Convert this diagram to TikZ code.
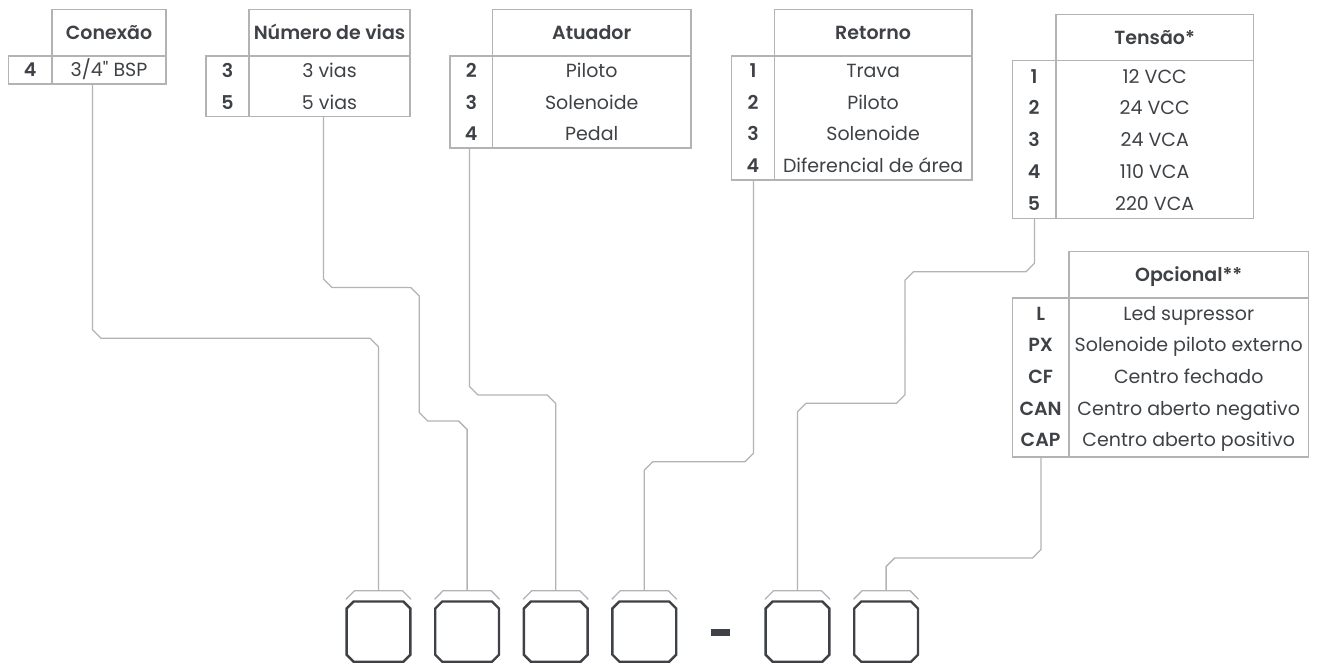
\documentclass[tikz,border=0pt]{standalone}
\usepackage{fontspec}
\IfFontExistsTF{Poppins SemiBold}{\setmainfont{Poppins}[Ligatures=TeXOff,BoldFont={Poppins SemiBold}]}{\setmainfont{Poppins}[Ligatures=TeXOff]}
\usetikzlibrary{calc}
\definecolor{ink}{HTML}{3E4145}
\definecolor{rulec}{HTML}{B3B3B3}
\definecolor{boxc}{HTML}{3E4145}
% connector with chamfered bends: #2 start, #3 level coordinate, #4 end
\newcommand\route[4][8.5]{%
  \draw[conn] let \p1=(#2), \p2=(#4), \p3=(#3), \n1={((\x2>\x1)*2-1)*#1} in
    (\p1) -- (\x1,{\y3+#1pt}) -- ({\x1+(\n1)},\y3) -- ({\x2-(\n1)},\y3) -- (\x2,{\y3-#1pt}) -- (\p2);}
% slot box: #1 name, #2 centre x
\newcommand\slotbox[2]{%
  \node[inner sep=0pt,minimum width=63.4pt,minimum height=59.8pt] (#1) at (#2,631.6) {};
  \draw[slot] ($(#1.north west)+(0,7)$) -- ($(#1.north west)+(7,0)$) -- ($(#1.north east)+(-7,0)$)
    -- ($(#1.north east)+(0,7)$) -- ($(#1.south east)+(0,-7)$) -- ($(#1.south east)+(-7,0)$)
    -- ($(#1.south west)+(7,0)$) -- ($(#1.south west)+(0,-7)$) -- cycle;
  \coordinate (#1top) at (#2,590.7);
  \draw[brk] ($(#1top)+(-32.5,8.6)$) -- ($(#1top)+(-24,0)$) -- ($(#1top)+(24,0)$) -- ($(#1top)+(32.5,8.6)$);}
\begin{document}
\begin{tikzpicture}[x=1pt,y=-1pt,
  tline/.style={draw=rulec,line width=1.3pt},
  conn/.style={draw=rulec,line width=1.3pt},
  brk/.style={draw=rulec,line width=1.3pt},
  slot/.style={draw=boxc,line width=2.4pt,line join=miter},
  txt/.style={anchor=base,yshift=-6.8pt,inner sep=0pt,text=ink,font=\fontsize{19}{22}\selectfont},
  num/.style={txt,font=\fontsize{19}{22}\selectfont\bfseries},
  hd/.style={num}]
\useasboundingbox (0,0) rectangle (1319,663);

% ---------- Conexao
\draw[tline] (52,9.5) rectangle (166,56);
\draw[tline] (8.4,56) rectangle (166,84);
\draw[tline] (52,56) -- (52,84);
\node[hd] (conH) at (109,32.5) {Conexão};
\node[num] (conN1) at (30.2,70) {4};
\node[txt] (conR1) at (109,70) {3/4" BSP};
\coordinate (conB) at (92.5,84);

% ---------- Numero de vias
\draw[tline] (249,9.5) rectangle (410,56);
\draw[tline] (206,56) rectangle (410,116.5);
\draw[tline] (249,56) -- (249,116.5);
\node[hd] (nvH) at (329.5,32.5) {Número de vias};
\foreach \a/\b [count=\i] in {3/3 vias,5/5 vias}{
  \node[num] (nvN\i) at (227.5,{70.5+31.8*(\i-1)}) {\a};
  \node[txt] (nvR\i) at (329.5,{70.5+31.8*(\i-1)}) {\b};}
\coordinate (nvB) at (323.5,116.5);

% ---------- Atuador
\draw[tline] (492.5,9.5) rectangle (691,56);
\draw[tline] (450,56) rectangle (691,148);
\draw[tline] (492.5,56) -- (492.5,148);
\node[hd] (atH) at (591.7,32.5) {Atuador};
\foreach \a/\b [count=\i] in {2/Piloto,3/Solenoide,4/Pedal}{
  \node[num] (atN\i) at (471.2,{70.5+31.8*(\i-1)}) {\a};
  \node[txt] (atR\i) at (591.7,{70.5+31.8*(\i-1)}) {\b};}
\coordinate (atB) at (469.5,148);

% ---------- Retorno
\draw[tline] (774.3,9.5) rectangle (972,56);
\draw[tline] (731.7,56) rectangle (972,180);
\draw[tline] (774.3,56) -- (774.3,180);
\node[hd] (reH) at (873.1,32.5) {Retorno};
\foreach \a/\b [count=\i] in {1/Trava,2/Piloto,3/Solenoide,4/Diferencial de área}{
  \node[num] (reN\i) at (753,{70.5+31.8*(\i-1)}) {\a};
  \node[txt] (reR\i) at (873.1,{70.5+31.8*(\i-1)}) {\b};}
\coordinate (reB) at (753.5,180);

% ---------- Tensao
\draw[tline] (1056,14.5) rectangle (1253.5,60.7);
\draw[tline] (1012.3,60.7) rectangle (1253.5,218.3);
\draw[tline] (1056,60.7) -- (1056,218.3);
\node[hd] (teH) at (1154.7,37.6) {Tensão*};
\foreach \a/\b [count=\i] in {1/12 VCC,2/24 VCC,3/24 VCA,4/110 VCA,5/220 VCA}{
  \node[num] (teN\i) at (1034.1,{76.5+31.7*(\i-1)}) {\a};
  \node[txt] (teR\i) at (1154.7,{76.5+31.7*(\i-1)}) {\b};}
\coordinate (teB) at (1034.5,218.3);

% ---------- Opcional
\draw[tline] (1069,251.7) rectangle (1308.5,298);
\draw[tline] (1012.3,298) rectangle (1308.5,457);
\draw[tline] (1069,298) -- (1069,457);
\node[hd] (opH) at (1188.7,274.8) {Opcional**};
\foreach \a/\b [count=\i] in {L/Led supressor,PX/Solenoide piloto externo,CF/Centro fechado,CAN/Centro aberto negativo,CAP/Centro aberto positivo}{
  \node[num] (opN\i) at (1040.6,{313.5+31.6*(\i-1)}) {\a};
  \node[txt] (opR\i) at (1188.7,{313.5+31.6*(\i-1)}) {\b};}
\coordinate (opB) at (1041,457);

% ---------- slots
\slotbox{s1}{378.5}
\slotbox{s2}{467.1}
\slotbox{s3}{555.7}
\slotbox{s4}{644.3}
\slotbox{s5}{797.5}
\slotbox{s6}{886.1}
\node[fill=boxc,inner sep=0pt,minimum width=19pt,minimum height=6.5pt] (dash) at (720.5,632.5) {};

% ---------- connectors
\coordinate (l1) at (0,338.3);
\coordinate (l2a) at (0,287.5);
\coordinate (l2b) at (0,421);
\coordinate (m2) at (419.3,350);
\coordinate (l3) at (0,395);
\coordinate (l4) at (0,461.7);
\coordinate (l5a) at (0,271.7);
\coordinate (l5b) at (0,403.3);
\coordinate (m5) at (905,340);
\coordinate (l6) at (0,558);
\route{conB}{l1}{s1top}
\route{nvB}{l2a}{m2}
\route{m2}{l2b}{s2top}
\route{atB}{l3}{s3top}
\route{reB}{l4}{s4top}
\route{teB}{l5a}{m5}
\route{m5}{l5b}{s5top}
\route{opB}{l6}{s6top}
\end{tikzpicture}
\end{document}
